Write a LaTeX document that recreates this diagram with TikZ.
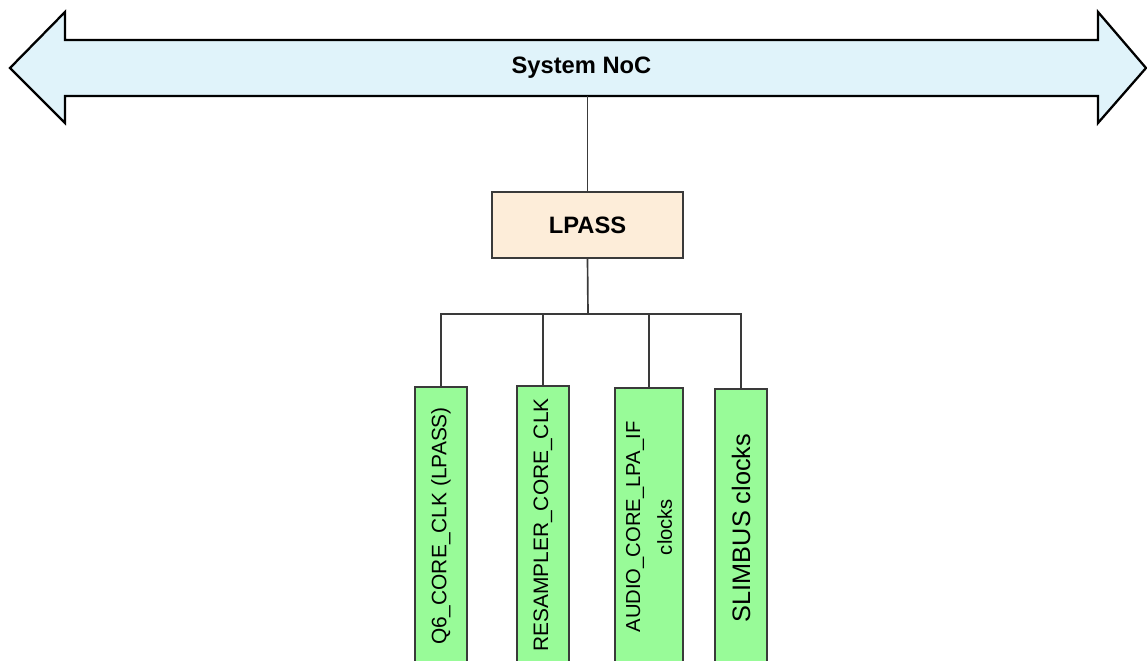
\documentclass[tikz,border=0pt]{standalone}
\usepackage{fontspec}
\setmainfont{Liberation Sans}
\usetikzlibrary{positioning, calc}

\definecolor{nocblue}{HTML}{E0F3FA}
\definecolor{lpasspeach}{HTML}{FDEDD9}
\definecolor{clkgreen}{HTML}{98FB98}
\definecolor{linegray}{HTML}{3A3A3A}

\begin{document}
\begin{tikzpicture}[x=0.02cm, y=-0.02cm]
    \tikzstyle{bus} = [rectangle, minimum width=20.66cm, minimum height=1.12cm, inner sep=0pt, font=\fontsize{13.5}{16}\selectfont\bfseries]
    \tikzstyle{block} = [rectangle, draw=linegray, line width=0.9pt, fill=lpasspeach, minimum width=3.82cm, minimum height=1.32cm, font=\fontsize{13.5}{16}\selectfont\bfseries]
    \tikzstyle{clk} = [rectangle, draw=linegray, line width=0.9pt, fill=clkgreen, rotate=90, minimum width=5.56cm, minimum height=1.04cm, inner sep=1pt, align=center, font=\fontsize{11.9}{14}\selectfont]
    \tikzstyle{wire} = [draw=linegray, line width=0.95pt]

    \clip (0,0) rectangle (1147,661);

    % System NoC double arrow
    \filldraw [fill=nocblue, draw=black, line width=1.3pt, line join=miter]
        (65,40) -- (65,12) -- (10,68) -- (65,123) -- (65,96)
        -- (1098,96) -- (1098,123) -- (1146,68) -- (1098,12) -- (1098,40) -- cycle;

    % Nodes
    \node [bus] (noc) at (581.5,68) {System NoC};
    \node [block] (lpass) at (587.5,225) {LPASS};
    \coordinate (split) at (588,314);

    \node [clk] (q6) at (441,526) {Q6\_CORE\_CLK (LPASS)};
    \node [clk] (resamp) at (543,525) {RESAMPLER\_CORE\_CLK};
    \node [clk, minimum height=1.36cm, font=\fontsize{11.5}{18}\selectfont] (audio) at (649,527) {AUDIO\_CORE\_LPA\_IF\\clocks};
    \node [clk, font=\fontsize{14.4}{17}\selectfont] (slim) at (741,528) {SLIMBUS clocks};

    % Connections
    \draw [wire] (lpass.north) -- (lpass.north |- noc.south);
    \draw [wire] (lpass.south) -- (split);
    \draw [wire] (q6.east) -- (q6.east |- split) -- (slim.east |- split) -- (slim.east);
    \foreach \n in {resamp, audio}
        \draw [wire] (\n.east) -- (\n.east |- split);
  \end{tikzpicture}
\end{document}
